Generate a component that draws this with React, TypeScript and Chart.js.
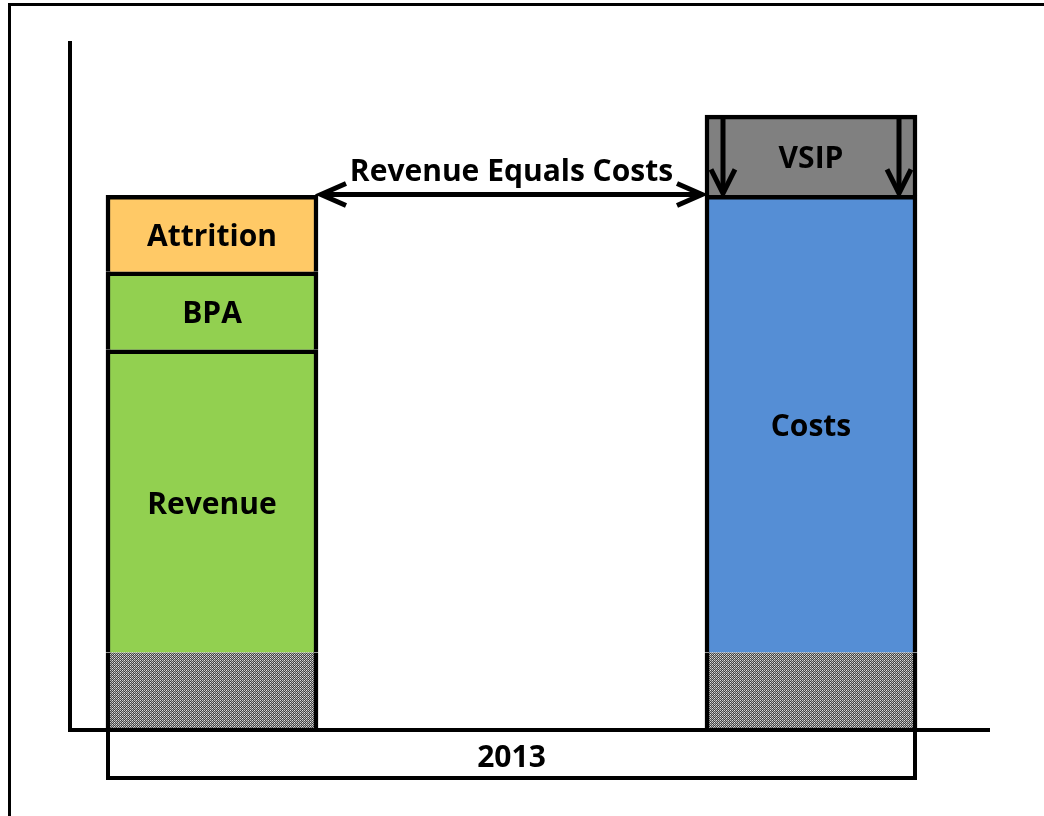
import React, { useEffect, useRef } from "react";
import { Chart, registerables } from "chart.js";

Chart.register(...registerables);

// Categories: left bar (funding), empty gap, right bar (spending)
const categories = ["Funding", "", "Spending"];
const yearLabel = "2013";
const arrowLabel = "Revenue Equals Costs";

// Stacked segment values (arbitrary units), bottom to top
const baseValues = [10, null, 10]; // hatched base portion
const revenueValues = [39.6, null, null];
const bpaValues = [10.2, null, null];
const attritionValues = [10, null, null];
const costsValues = [null, null, 59.8];
const vsipValues = [null, null, 10.5];

const segmentNames = ["", "Revenue", "BPA", "Attrition", "Costs", "VSIP"];
const yMax = 90;

const FONT = "'Open Sans', Lato, sans-serif";
const FONT_SIZE = 30;

function makeHatch(): CanvasPattern | string {
  const c = document.createElement("canvas");
  c.width = 4;
  c.height = 4;
  const g = c.getContext("2d");
  if (!g) return "#888";
  const px = [
    [220, 60, 200, 90],
    [90, 160, 60, 170],
    [200, 60, 230, 70],
    [60, 180, 90, 150],
  ];
  for (let y = 0; y < 4; y++)
    for (let x = 0; x < 4; x++) {
      const v = px[y][x];
      g.fillStyle = `rgb(${v},${v},${v})`;
      g.fillRect(x, y, 1, 1);
    }
  const ctx = document.createElement("canvas").getContext("2d");
  const p = ctx ? ctx.createPattern(c, "repeat") : null;
  return p || "#888";
}

function chevron(ctx: CanvasRenderingContext2D, tx: number, ty: number, dx: number, dy: number, len: number, half: number) {
  const bx = tx - dx * len;
  const by = ty - dy * len;
  const nx = -dy;
  const ny = dx;
  ctx.beginPath();
  ctx.moveTo(bx + nx * half, by + ny * half);
  ctx.lineTo(tx, ty);
  ctx.lineTo(bx - nx * half, by - ny * half);
  ctx.stroke();
}

const decorPlugin = {
  id: "decor",
  afterDatasetsDraw(chart: any) {
    const ctx: CanvasRenderingContext2D = chart.ctx;
    const y = chart.scales.y;
    const area = chart.chartArea;
    ctx.save();
    ctx.fillStyle = "#000";
    ctx.strokeStyle = "#000";

    // outer frame (left + top)
    ctx.fillRect(8, 3, chart.width - 8, 3);
    ctx.fillRect(8, 3, 3, chart.height - 3);

    // axes
    const zeroY = y.getPixelForValue(0);
    ctx.fillRect(68, area.top, 4, zeroY + 3 - area.top);
    ctx.fillRect(68, zeroY - 1, 990 - 68, 4);

    // bar geometry
    const leftBar = chart.getDatasetMeta(0).data[0];
    const rightBar = chart.getDatasetMeta(0).data[2];
    const lw = leftBar.width;
    const leftOuter = leftBar.x - lw / 2;
    const leftRight = leftBar.x + lw / 2;
    const rightLeft = rightBar.x - rightBar.width / 2;
    const rightOuter = rightBar.x + rightBar.width / 2;

    // year box
    ctx.lineWidth = 4;
    ctx.strokeRect(leftOuter + 2, zeroY + 1, rightOuter - leftOuter - 4, 48);
    ctx.font = `bold ${FONT_SIZE}px ${FONT}`;
    ctx.textAlign = "center";
    ctx.textBaseline = "alphabetic";
    ctx.fillText(yearLabel, (leftOuter + rightOuter) / 2, zeroY + 38);

    // segment labels
    for (let di = 1; di < chart.data.datasets.length; di++) {
      const meta = chart.getDatasetMeta(di);
      meta.data.forEach((el: any, j: number) => {
        const v = chart.data.datasets[di].data[j];
        if (v == null) return;
        const cy = (el.y + el.base) / 2 + 2;
        ctx.fillText(segmentNames[di], el.x, cy + 10.5);
      });
    }

    // horizontal double arrow at top of revenue stack
    const total = (baseValues[0] || 0) + (revenueValues[0] || 0) + (bpaValues[0] || 0) + (attritionValues[0] || 0);
    const ay = y.getPixelForValue(total) - 1;
    ctx.lineWidth = 5;
    ctx.lineCap = "butt";
    ctx.lineJoin = "miter";
    const ax1 = leftRight + 3;
    const ax2 = rightLeft - 3;
    ctx.beginPath();
    ctx.moveTo(ax1 + 4, ay);
    ctx.lineTo(ax2 - 4, ay);
    ctx.stroke();
    chevron(ctx, ax1, ay, -1, 0, 25, 11);
    chevron(ctx, ax2, ay, 1, 0, 25, 11);
    ctx.fillText(arrowLabel, (ax1 + ax2) / 2, ay - 13);

    // VSIP down arrows
    const vsTop = y.getPixelForValue((baseValues[2] || 0) + (costsValues[2] || 0) + (vsipValues[2] || 0)) + 3;
    const vsBot = y.getPixelForValue((baseValues[2] || 0) + (costsValues[2] || 0)) - 2;
    [rightLeft + 18, rightOuter - 18].forEach((vx) => {
      ctx.lineWidth = 5;
      ctx.beginPath();
      ctx.moveTo(vx, vsTop);
      ctx.lineTo(vx, vsBot - 4);
      ctx.stroke();
      chevron(ctx, vx, vsBot, 0, 1, 24, 12);
    });

    ctx.restore();
  },
};

export default function App() {
  const ref = useRef<HTMLCanvasElement | null>(null);
  useEffect(() => {
    if (!ref.current) return;
    const hatch = makeHatch();
    const sides = { left: 4.5, right: 4.5, top: 4.5, bottom: 0 };
    const mk = (label: string, data: (number | null)[], color: any, bw: any) => ({
      label,
      data,
      backgroundColor: color,
      borderColor: "#000",
      borderWidth: bw,
      borderSkipped: false,
      barThickness: 212,
      stack: "s",
    });
    const chart = new Chart(ref.current, {
      type: "bar",
      data: {
        labels: categories,
        datasets: [
          mk("Base", baseValues, hatch, { left: 4.5, right: 4.5, top: 0, bottom: 0 }),
          mk("Revenue", revenueValues, "#92D050", sides),
          mk("BPA", bpaValues, "#92D050", sides),
          mk("Attrition", attritionValues, "#FFC966", sides),
          mk("Costs", costsValues, "#558ED5", sides),
          mk("VSIP", vsipValues, "#808080", sides),
        ] as any,
      },
      options: {
        animation: false,
        responsive: false,
        layout: { padding: { left: 62.25, right: 83.25, top: 41, bottom: 87 } },
        plugins: { legend: { display: false }, tooltip: { enabled: false } },
        scales: {
          x: { display: false, stacked: true },
          y: { display: false, stacked: true, min: 0, max: yMax },
        },
      },
      plugins: [decorPlugin],
    });
    return () => chart.destroy();
  }, []);
  return (
    <div style={{ position: "fixed", left: 0, top: 0, width: 1044, height: 816, background: "#fff" }}>
      <canvas ref={ref} width={1044} height={816} />
    </div>
  );
}
